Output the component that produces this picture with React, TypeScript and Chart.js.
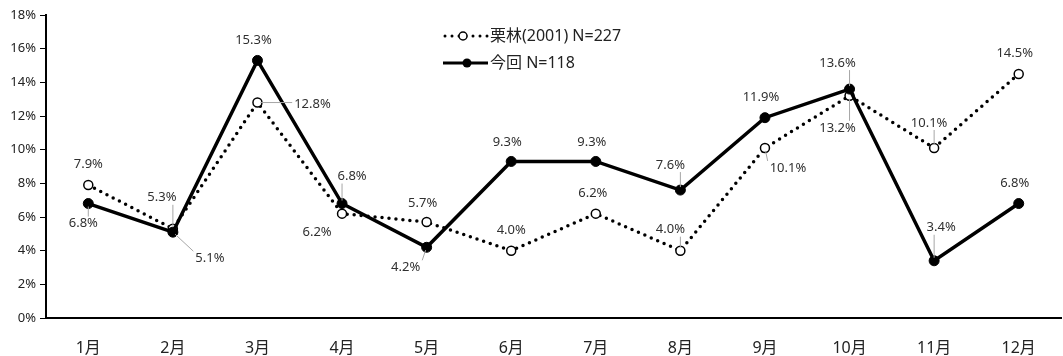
import React, { useEffect, useRef } from "react";
import { Chart, registerables } from "chart.js";

Chart.register(...registerables);

const categories = ["1月", "2月", "3月", "4月", "5月", "6月", "7月", "8月", "9月", "10月", "11月", "12月"];
const kurebayashiLabel = "栗林(2001) N=227";
const kurebayashi = [7.9, 5.3, 12.8, 6.2, 5.7, 4.0, 6.2, 4.0, 10.1, 13.2, 10.1, 14.5];
const konkaiLabel = "今回 N=118";
const konkai = [6.8, 5.1, 15.3, 6.8, 4.2, 9.3, 9.3, 7.6, 11.9, 13.6, 3.4, 6.8];
const yTicks = [0, 2, 4, 6, 8, 10, 12, 14, 16, 18];

// label placement (dx, dy from point, leader line flag)
const kureLabelPos: [number, number, boolean][] = [
  [0, -21, false], [-11, -31, true], [55, 2, true], [-25, 19, false], [-4, -19, false], [0, -20, false],
  [-3, -20, false], [-10, -21, true], [23, 20, true], [-12, 32, true], [-5, -25, true], [-4, -21, false],
];
const konkaiLabelPos: [number, number, boolean][] = [
  [-5, 20, true], [37, 26, true], [-4, -20, false], [10, -27, true], [-21, 20, true], [-4, -19, false],
  [-4, -19, false], [-10, -25, true], [-4, -20, false], [-12, -26, true], [7, -33, true], [-4, -20, false],
];

const FONT = "'Noto Sans', 'Noto Sans CJK JP', sans-serif";

const labelPlugin = {
  id: "valueLabels",
  afterDatasetsDraw(chart: any) {
    const ctx = chart.ctx;
    ctx.save();
    ctx.font = `13px ${FONT}`;
    ctx.textAlign = "center";
    ctx.textBaseline = "middle";
    chart.data.datasets.forEach((ds: any, di: number) => {
      const meta = chart.getDatasetMeta(di);
      const pos = ds.labelPos as [number, number, boolean][];
      meta.data.forEach((pt: any, i: number) => {
        const [dx, dy, leader] = pos[i];
        const text = ds.data[i].toFixed(1) + "%";
        const cx = pt.x + dx;
        const cy = pt.y + dy;
        if (leader) {
          const w = ctx.measureText(text).width;
          const h = 12;
          const bx0 = cx - w / 2 - 2, bx1 = cx + w / 2 + 2;
          const by0 = cy - h / 2 - 1, by1 = cy + h / 2 + 1;
          const nx = Math.min(Math.max(pt.x, bx0), bx1);
          const ny = Math.min(Math.max(pt.y, by0), by1);
          const len = Math.hypot(nx - pt.x, ny - pt.y);
          if (len > 5) {
            const sx = pt.x + ((nx - pt.x) / len) * 3;
            const sy = pt.y + ((ny - pt.y) / len) * 3;
            ctx.strokeStyle = "#a6a6a6";
            ctx.lineWidth = 1;
            ctx.beginPath();
            ctx.moveTo(sx, sy);
            ctx.lineTo(nx, ny);
            ctx.stroke();
          }
        }
        ctx.fillStyle = "#303030";
        ctx.fillText(text, cx, cy);
      });
    });
    ctx.restore();
  },
};

const legendPlugin = {
  id: "customLegend",
  afterDraw(chart: any) {
    const ctx = chart.ctx;
    ctx.save();
    // dotted series
    const y1 = 36;
    ctx.strokeStyle = "#000";
    ctx.lineWidth = 3;
    ctx.lineCap = "round";
    ctx.setLineDash([0, 7]);
    ctx.beginPath();
    ctx.moveTo(445, y1);
    ctx.lineTo(488, y1);
    ctx.stroke();
    ctx.setLineDash([]);
    ctx.beginPath();
    ctx.arc(463, y1, 4, 0, Math.PI * 2);
    ctx.fillStyle = "#fff";
    ctx.fill();
    ctx.lineWidth = 1.5;
    ctx.stroke();
    // solid series
    const y2 = 63;
    ctx.lineWidth = 3;
    ctx.lineCap = "butt";
    ctx.beginPath();
    ctx.moveTo(443, y2);
    ctx.lineTo(488, y2);
    ctx.stroke();
    ctx.beginPath();
    ctx.arc(467, y2, 4.5, 0, Math.PI * 2);
    ctx.fillStyle = "#000";
    ctx.fill();
    ctx.font = `16px ${FONT}`;
    ctx.textAlign = "left";
    ctx.textBaseline = "middle";
    ctx.fillStyle = "#222";
    ctx.fillText(kurebayashiLabel, 490, y1);
    ctx.fillText(konkaiLabel, 490, y2);
    ctx.restore();
  },
};

export default function App() {
  const ref = useRef<HTMLCanvasElement>(null);
  useEffect(() => {
    document.body.style.margin = "0";
    const chart = new Chart(ref.current!, {
      type: "line",
      data: {
        labels: categories,
        datasets: [
          {
            label: konkaiLabel,
            data: konkai,
            borderColor: "#000",
            backgroundColor: "#000",
            borderWidth: 3.5,
            pointRadius: 5,
            pointBackgroundColor: "#000",
            pointBorderColor: "#000",
            pointBorderWidth: 1,
            tension: 0,
            order: 0,
            labelPos: konkaiLabelPos,
          } as any,
          {
            label: kurebayashiLabel,
            data: kurebayashi,
            borderColor: "#000",
            backgroundColor: "#fff",
            borderWidth: 3.5,
            borderDash: [0, 7],
            borderCapStyle: "round",
            pointRadius: 4.5,
            pointBackgroundColor: "#fff",
            pointBorderColor: "#000",
            pointBorderWidth: 1.5,
            tension: 0,
            order: 1,
            labelPos: kureLabelPos,
          } as any,
        ],
      },
      options: {
        responsive: false,
        animation: false,
        layout: { autoPadding: false, padding: { top: 15, right: 2, left: 0, bottom: 0 } },
        plugins: { legend: { display: false }, tooltip: { enabled: false } },
        scales: {
          x: {
            offset: true,
            grid: { display: true, drawOnChartArea: false, drawTicks: false },
            border: { display: true, color: "#000", width: 2 },
            ticks: { color: "#222", font: { size: 16, family: FONT }, padding: 21, maxRotation: 0 },
            afterFit: (s: any) => { s.height = 38; s.paddingRight = 0; s.paddingLeft = 0; },
          },
          y: {
            min: 0,
            max: 18,
            afterBuildTicks: (s: any) => { s.ticks = yTicks.map((v) => ({ value: v })); },
            grid: { display: true, drawOnChartArea: false, drawTicks: true, tickLength: 6, color: "#000", lineWidth: 1 },
            border: { display: true, color: "#000", width: 2 },
            ticks: {
              color: "#222",
              font: { size: 13, family: FONT },
              padding: 4,
              callback: (v: any) => `${v}%`,
            },
            afterFit: (s: any) => { s.width = 46; },
          },
        },
      },
      plugins: [labelPlugin, legendPlugin],
    });
    return () => chart.destroy();
  }, []);
  return (
    <div style={{ position: "absolute", left: 0, top: 0, width: 1063, height: 356 }}>
      <canvas ref={ref} width={1063} height={356} style={{ display: "block" }} />
    </div>
  );
}
